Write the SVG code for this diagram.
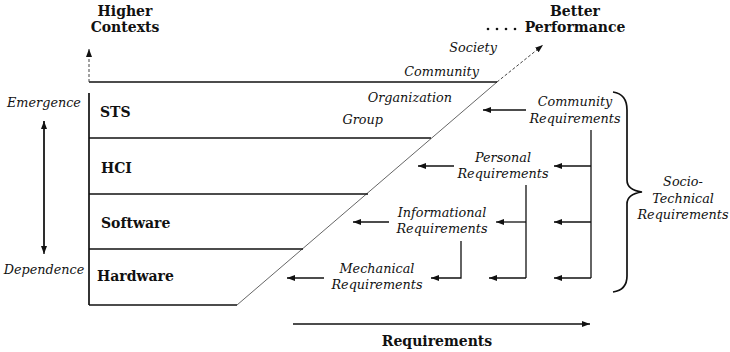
<svg xmlns="http://www.w3.org/2000/svg" width="730" height="352" viewBox="0 0 730 352">
<style>
text{font-family:"DejaVu Serif","Liberation Serif",serif;fill:#111}
.b{font-weight:bold;font-size:14px}
.i{font-style:italic;font-size:12.8px}
.m{text-anchor:middle}
.e{text-anchor:end}
.ln{stroke:#111;stroke-width:1.7;fill:none}
.c{stroke:#111;stroke-width:1.3;fill:none}
.d{stroke:#444;stroke-width:1;fill:none;stroke-dasharray:3,2}
.g{stroke:#666;stroke-width:1;fill:none}
</style>
<defs>
<marker id="ah" markerUnits="userSpaceOnUse" markerWidth="9" markerHeight="7" refX="8" refY="3" orient="auto">
<path d="M0,0 L8,3 L0,6 z" fill="#111"/>
</marker>
</defs>
<g id="titles">
<text class="b m" x="125" y="16">Higher</text>
<text class="b m" x="125" y="32">Contexts</text>
<text class="b m" x="575" y="16">Better</text>
<text class="b m" x="575" y="32">Performance</text>
<text class="b m" x="437" y="346">Requirements</text>
</g>
<g id="dots" fill="#111">
<circle cx="488" cy="29" r="1.3"/><circle cx="497" cy="29" r="1.3"/><circle cx="506" cy="29" r="1.3"/><circle cx="515" cy="29" r="1.3"/>
</g>
<g id="contexts">
<text class="i e" x="497" y="52">Society</text>
<text class="i e" x="479" y="76">Community</text>
<text class="i e" x="452" y="102">Organization</text>
<text class="i e" x="383" y="124">Group</text>
</g>
<g id="frame">
<line class="ln" x1="89" y1="93" x2="89" y2="305"/>
<line class="g" x1="237" y1="305" x2="497" y2="82"/>
</g>
<g id="sts"><line class="ln" x1="89" y1="82" x2="497" y2="82"/><text class="b" x="100" y="117">STS</text></g>
<g id="hci"><line class="ln" x1="89" y1="138" x2="431" y2="138"/><text class="b" x="101" y="173">HCI</text></g>
<g id="software"><line class="ln" x1="89" y1="194" x2="368" y2="194"/><text class="b" x="101" y="228">Software</text></g>
<g id="hardware"><line class="ln" x1="89" y1="249" x2="303" y2="249"/><line class="ln" x1="89" y1="305" x2="237" y2="305"/><text class="b" x="97" y="281">Hardware</text></g>
<g id="emergence"><text class="i m" x="44" y="107">Emergence</text></g>
<g id="dependence"><text class="i m" x="44" y="274">Dependence</text></g>
<g id="community-req"><text class="i m" x="575" y="106">Community</text><text class="i m" x="575" y="123">Requirements</text></g>
<g id="personal-req"><text class="i m" x="503" y="162">Personal</text><text class="i m" x="503" y="178">Requirements</text></g>
<g id="informational-req"><text class="i m" x="442" y="217">Informational</text><text class="i m" x="442" y="233">Requirements</text></g>
<g id="mechanical-req"><text class="i m" x="377" y="273">Mechanical</text><text class="i m" x="377" y="289">Requirements</text></g>
<g id="socio-technical">
<path class="ln" d="M613,92 Q627,94 627,110 L627,180 Q627,190 642,192 Q627,194 627,204 L627,276 Q627,290 613,292"/>
<text class="i m" x="683" y="186">Socio-</text>
<text class="i m" x="683" y="203">Technical</text>
<text class="i m" x="683" y="219">Requirements</text>
</g>
<g id="connectors">
<line class="d" x1="89" y1="82" x2="89" y2="49" marker-end="url(#ah)"/>
<line class="d" x1="497" y1="82" x2="543" y2="45" marker-end="url(#ah)"/>
<line class="c" x1="44" y1="252" x2="44" y2="121" marker-end="url(#ah)"/>
<line class="c" x1="44" y1="121" x2="44" y2="254" marker-end="url(#ah)"/>
<line class="c" x1="526" y1="110" x2="483" y2="110" marker-end="url(#ah)"/>
<line class="c" x1="454" y1="166" x2="418" y2="166" marker-end="url(#ah)"/>
<line class="c" x1="389" y1="222" x2="353" y2="222" marker-end="url(#ah)"/>
<line class="c" x1="324" y1="278" x2="287" y2="278" marker-end="url(#ah)"/>
<line class="c" x1="591" y1="130" x2="591" y2="278"/>
<line class="c" x1="591" y1="166" x2="554" y2="166" marker-end="url(#ah)"/>
<line class="c" x1="591" y1="222" x2="554" y2="222" marker-end="url(#ah)"/>
<line class="c" x1="591" y1="278" x2="554" y2="278" marker-end="url(#ah)"/>
<line class="c" x1="526" y1="185" x2="526" y2="278"/>
<line class="c" x1="526" y1="222" x2="496" y2="222" marker-end="url(#ah)"/>
<line class="c" x1="526" y1="278" x2="489" y2="278" marker-end="url(#ah)"/>
<polyline class="c" points="461,241 461,278 431,278" marker-end="url(#ah)"/>
<line class="c" x1="293" y1="324" x2="590" y2="324" marker-end="url(#ah)"/>
</g>
</svg>
